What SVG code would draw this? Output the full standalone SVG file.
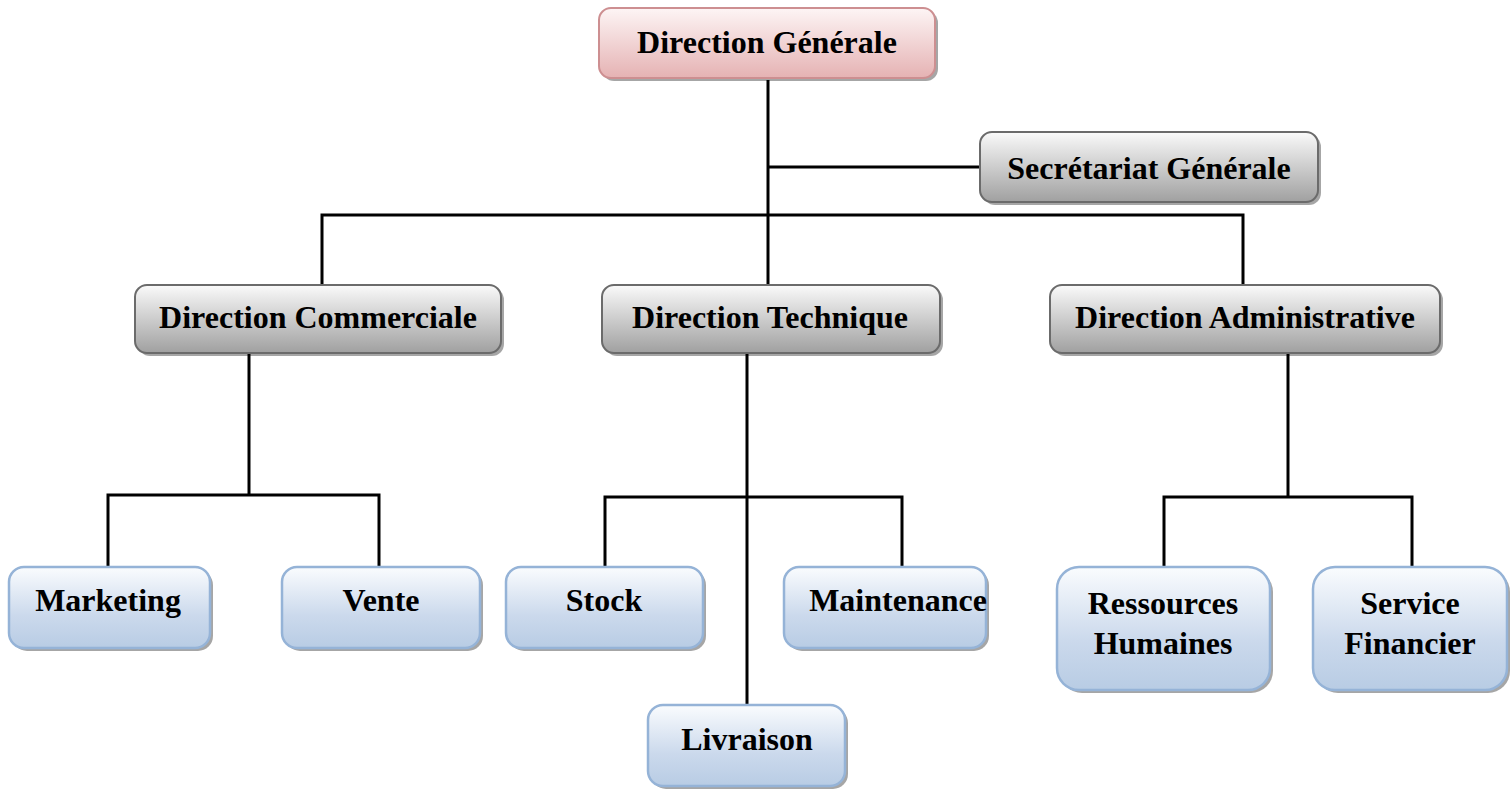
<svg xmlns="http://www.w3.org/2000/svg" width="1510" height="789" viewBox="0 0 1510 789">
<defs>
<linearGradient id="gPink" x1="0" y1="0" x2="0" y2="1"><stop offset="0" stop-color="#fdf5f5"/><stop offset="1" stop-color="#e5b2b3"/></linearGradient>
<linearGradient id="gGray" x1="0" y1="0" x2="0" y2="1"><stop offset="0" stop-color="#fbfbfb"/><stop offset="0.15" stop-color="#ececec"/><stop offset="1" stop-color="#a0a0a0"/></linearGradient>
<linearGradient id="gBlue" x1="0" y1="0" x2="0" y2="1"><stop offset="0" stop-color="#fafcfe"/><stop offset="0.6" stop-color="#cbd9ec"/><stop offset="1" stop-color="#b8cce4"/></linearGradient>
</defs>
<style>
.sh{fill:#000;opacity:0.35}
.pink{fill:url(#gPink);stroke:#cd8f91;stroke-width:2}
.gray{fill:url(#gGray);stroke:#6b6b6b;stroke-width:2}
.blue{fill:url(#gBlue);stroke:#95b3d7;stroke-width:2.5}
text{font-family:"Liberation Serif","Times New Roman",serif;font-weight:bold;font-size:32px;fill:#000;text-anchor:middle}
.ln{fill:none;stroke:#000;stroke-width:3;stroke-linejoin:miter}
</style>
<g id="connectors">
<path class="ln" d="M768,80 V285"/>
<path class="ln" d="M768,167 H980"/>
<path class="ln" d="M322,285 V215 H1243 V285"/>
<path class="ln" d="M249,353 V495"/>
<path class="ln" d="M108,567 V495 H379 V567"/>
<path class="ln" d="M747,353 V705"/>
<path class="ln" d="M605,567 V497 H902 V567"/>
<path class="ln" d="M1288,353 V497"/>
<path class="ln" d="M1164,567 V497 H1412 V567"/>
</g>
<g id="n-dg"><rect class="sh" x="602" y="11" width="336" height="70" rx="12"/><rect class="pink" x="599" y="8" width="336" height="70" rx="12"/><text x="767" y="53">Direction Générale</text></g>
<g id="n-sg"><rect class="sh" x="983" y="135" width="338" height="70" rx="12"/><rect class="gray" x="980" y="132" width="338" height="70" rx="12"/><text x="1149" y="179">Secrétariat Générale</text></g>
<g id="n-dc"><rect class="sh" x="138" y="288" width="366" height="68" rx="12"/><rect class="gray" x="135" y="285" width="366" height="68" rx="12"/><text x="318" y="328">Direction Commerciale</text></g>
<g id="n-dt"><rect class="sh" x="605" y="288" width="338" height="68" rx="12"/><rect class="gray" x="602" y="285" width="338" height="68" rx="12"/><text x="770" y="328">Direction Technique</text></g>
<g id="n-da"><rect class="sh" x="1053" y="288" width="390" height="68" rx="12"/><rect class="gray" x="1050" y="285" width="390" height="68" rx="12"/><text x="1245" y="328">Direction Administrative</text></g>
<g id="n-mk"><rect class="sh" x="12" y="570" width="201" height="81" rx="15"/><rect class="blue" x="9" y="567" width="201" height="81" rx="15"/><text x="108" y="611">Marketing</text></g>
<g id="n-ve"><rect class="sh" x="285" y="570" width="198" height="81" rx="15"/><rect class="blue" x="282" y="567" width="198" height="81" rx="15"/><text x="381" y="611">Vente</text></g>
<g id="n-st"><rect class="sh" x="509" y="570" width="197" height="81" rx="15"/><rect class="blue" x="506" y="567" width="197" height="81" rx="15"/><text x="604" y="611">Stock</text></g>
<g id="n-ma"><rect class="sh" x="787" y="570" width="202" height="81" rx="15"/><rect class="blue" x="784" y="567" width="202" height="81" rx="15"/><text x="898" y="611">Maintenance</text></g>
<g id="n-li"><rect class="sh" x="651" y="708" width="197" height="81" rx="15"/><rect class="blue" x="648" y="705" width="197" height="81" rx="15"/><text x="747" y="750">Livraison</text></g>
<g id="n-rh"><rect class="sh" x="1060" y="570" width="213" height="123" rx="22"/><rect class="blue" x="1057" y="567" width="213" height="123" rx="22"/><text x="1163" y="614">Ressources</text><text x="1163" y="654">Humaines</text></g>
<g id="n-sf"><rect class="sh" x="1316" y="570" width="194" height="123" rx="22"/><rect class="blue" x="1313" y="567" width="194" height="123" rx="22"/><text x="1410" y="614">Service</text><text x="1410" y="654">Financier</text></g>
</svg>
